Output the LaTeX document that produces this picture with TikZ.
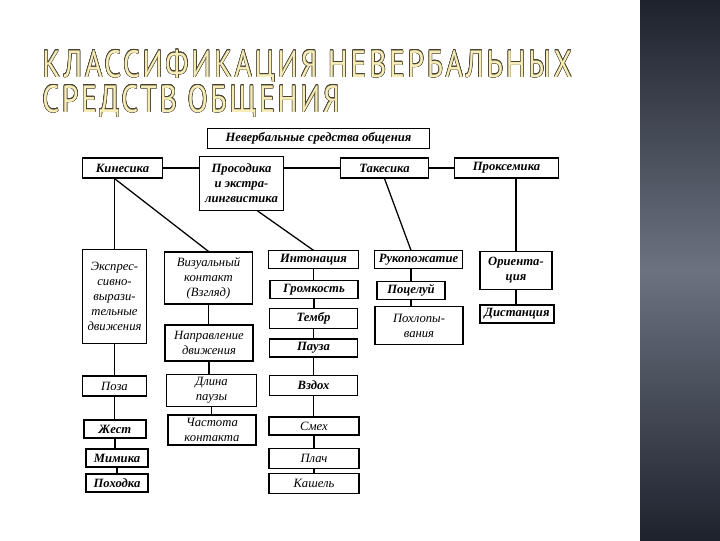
\documentclass[tikz,border=0pt]{standalone}
\usepackage{fontspec}
\setmainfont{Liberation Serif}
\newfontfamily\ttlfont[FakeStretch=0.78,LetterSpace=7]{PT Sans}
\usepackage{tikz}
\usepackage{contour}
\usetikzlibrary{positioning,calc}
\contourlength{0.35pt}
\contournumber{16}
\definecolor{gold100} {HTML}{F6ECB8}
\definecolor{gold800} {HTML}{4A4230}
\definecolor{slate900}{HTML}{1E222D}
\definecolor{slate500}{HTML}{6C7280}
\newcommand{\ttl}[1]{\contour{gold800}{\textcolor{gold100}{#1}}}
\tikzset{
  box/.style  ={draw=black, line width=0.8pt, fill=white, align=center,
                inner sep=1pt, font=\fontsize{9}{10.6}\selectfont\bfseries\itshape},
  boxl/.style ={box, font=\fontsize{9}{10.6}\selectfont\itshape},
  ttlnode/.style={inner sep=0pt, anchor=base west,
                font=\ttlfont\fontsize{27}{28}\selectfont},
  ln/.style   ={draw=black, line width=0.9pt}
}
\begin{document}
\begin{tikzpicture}[x=0.025cm,y=-0.025cm]
\useasboundingbox (0,0) rectangle (720,540);
\fill[top color=slate900, bottom color=slate900, middle color=slate500]
  (640,0) rectangle (720,540);

\node[ttlnode] (ttlA) at (42,77) {\ttl{КЛАССИФИКАЦИЯ НЕВЕРБАЛЬНЫХ}};
\node[ttlnode] (ttlB) at (42,112) {\ttl{СРЕДСТВ ОБЩЕНИЯ}};

\node[box, minimum width=5.53cm, minimum height=0.48cm] (nvs) at (318.5,138.5)
  {Невербальные средства общения};
\node[box, minimum width=1.98cm, minimum height=0.5cm] (kin) at (122.5,168) {Кинесика};
\node[box, minimum width=2.08cm, minimum height=1.33cm] (pros) at (241.5,183.5)
  {Просодика\\и экстра-\\лингвистика};
\node[box, minimum width=2.18cm, minimum height=0.5cm] (tak) at (384.5,168) {Такесика};
\node[box, minimum width=2.58cm, minimum height=0.5cm] (prox) at (506.5,168) {Проксемика};

\node[boxl, minimum width=1.58cm, minimum height=2.33cm] (expr) at (114.5,296.5)
  {Экспрес-\\сивно-\\вырази-\\тельные\\движения};
\node[boxl, minimum width=1.58cm, minimum height=0.5cm] (poza) at (114.5,386) {Поза};
\node[box, minimum width=1.55cm, minimum height=0.45cm] (zhest) at (115,429) {Жест};
\node[box, minimum width=1.55cm, minimum height=0.45cm] (mimika) at (117,458) {Мимика};
\node[box, minimum width=1.55cm, minimum height=0.45cm] (pohodka) at (117,483) {Походка};

\node[boxl, minimum width=2.18cm, minimum height=1.3cm] (viz) at (208.5,278)
  {Визуальный\\контакт\\(Взгляд)};
\node[boxl, minimum width=2.2cm, minimum height=0.9cm] (napr) at (209,343)
  {Направление\\движения};
\node[boxl, minimum width=2.23cm, minimum height=0.78cm] (dlina) at (211.5,390.5)
  {Длина\\паузы};
\node[boxl, minimum width=2.2cm, minimum height=0.75cm] (chast) at (212,430)
  {Частота\\контакта};

\node[box, minimum width=2.23cm, minimum height=0.43cm] (inton) at (313.5,259.5) {Интонация};
\node[box, minimum width=2.2cm, minimum height=0.43cm] (gromk) at (314,289.5) {Громкость};
\node[box, minimum width=2.18cm, minimum height=0.48cm] (tembr) at (313.5,318.5) {Тембр};
\node[box, minimum width=2.18cm, minimum height=0.45cm] (pauza) at (313.5,348) {Пауза};
\node[box, minimum width=2.18cm, minimum height=0.48cm] (vzdoh) at (313.5,385.5) {Вздох};
\node[boxl, minimum width=2.25cm, minimum height=0.45cm] (smeh) at (314,426) {Смех};
\node[boxl, minimum width=2.25cm, minimum height=0.48cm] (plach) at (314,458.5) {Плач};
\node[boxl, minimum width=2.25cm, minimum height=0.48cm] (kashel) at (314,483.5) {Кашель};

\node[box, minimum width=2.18cm, minimum height=0.43cm] (ruk) at (418.5,259.5) {Рукопожатие};
\node[box, minimum width=1.7cm, minimum height=0.43cm] (poc) at (411,290.5) {Поцелуй};
\node[boxl, minimum width=2.2cm, minimum height=0.93cm] (pohl) at (419,325.5)
  {Похлопы-\\вания};

\node[box, minimum width=1.8cm, minimum height=0.93cm] (orient) at (516,270.5)
  {Ориента-\\ция};
\node[box, minimum width=1.85cm, minimum height=0.45cm] (dist) at (517,314) {Дистанция};

\draw[ln] (kin.east) -- (kin.east -| pros.west);
\draw[ln] (tak.west -| pros.east) -- (tak.west);
\draw[ln] (tak.east) -- (prox.west);

\draw[ln] (expr.north |- kin.south) -- (expr.north);
\draw[ln] (expr.north |- kin.south) -- (viz.north);
\draw[ln] (pros.300) -- (inton.north);
\draw[ln] (tak.south) -- (poc.north |- ruk.north);
\draw[ln] (orient.north |- prox.south) -- (orient.north);

\foreach \a/\b in {expr/poza,poza/zhest,zhest/mimika,mimika/pohodka,
                   viz/napr,napr/dlina,dlina/chast,
                   inton/gromk,gromk/tembr,tembr/pauza,pauza/vzdoh,
                   vzdoh/smeh,smeh/plach,plach/kashel,
                   poc/pohl,orient/dist}
  \draw[ln] (\a.south) -- (\a.south |- \b.north);
\draw[ln] (poc.north |- ruk.south) -- (poc.north);
\end{tikzpicture}
\end{document}
